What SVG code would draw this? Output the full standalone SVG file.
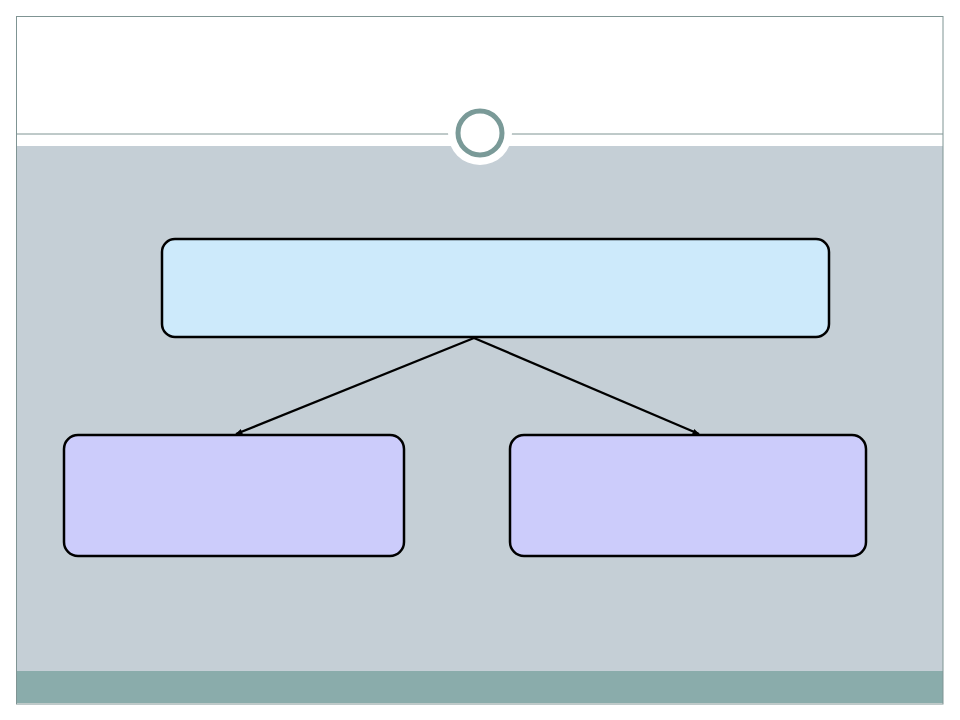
<svg xmlns="http://www.w3.org/2000/svg" width="960" height="720" viewBox="0 0 960 720">
<style>
.box{stroke:#000;stroke-width:2.5}
.top{fill:#cdeafb}
.sub{fill:#ccccfb}
.conn{stroke:#000;stroke-width:2.3;fill:none}
</style>
<defs>
<marker id="ah" viewBox="0 0 10 10" refX="9" refY="5" markerWidth="8" markerHeight="7" orient="auto" markerUnits="userSpaceOnUse">
<path d="M0,1 L10,5 L0,9 Z" fill="#000"/>
</marker>
</defs>
<rect width="960" height="720" fill="#fff"/>
<g id="frame">
<rect x="16.5" y="146" width="926.5" height="525" fill="#c5cfd6"/>
<rect x="16.5" y="671" width="926.5" height="32" fill="#8aacab"/>
<line x1="16.5" y1="134" x2="943" y2="134" stroke="#7f9493" stroke-width="1"/>
<rect x="16.5" y="16.5" width="926.5" height="687.5" fill="none" stroke="#7f9493" stroke-width="1"/>
<circle cx="480" cy="133" r="32" fill="#fff"/>
<circle cx="480" cy="133" r="22" fill="#fff" stroke="#7a9a98" stroke-width="5"/>
</g>
<g id="node-top">
<rect class="box top" x="162" y="239" width="667" height="98" rx="13"/>
</g>
<g id="node-left">
<rect class="box sub" x="64" y="435" width="340" height="121" rx="14"/>
</g>
<g id="node-right">
<rect class="box sub" x="510" y="435" width="356" height="121" rx="14"/>
</g>
<g id="connectors">
<line class="conn" x1="474" y1="338" x2="236" y2="434" marker-end="url(#ah)"/>
<line class="conn" x1="474" y1="338" x2="699" y2="434" marker-end="url(#ah)"/>
</g>
</svg>
